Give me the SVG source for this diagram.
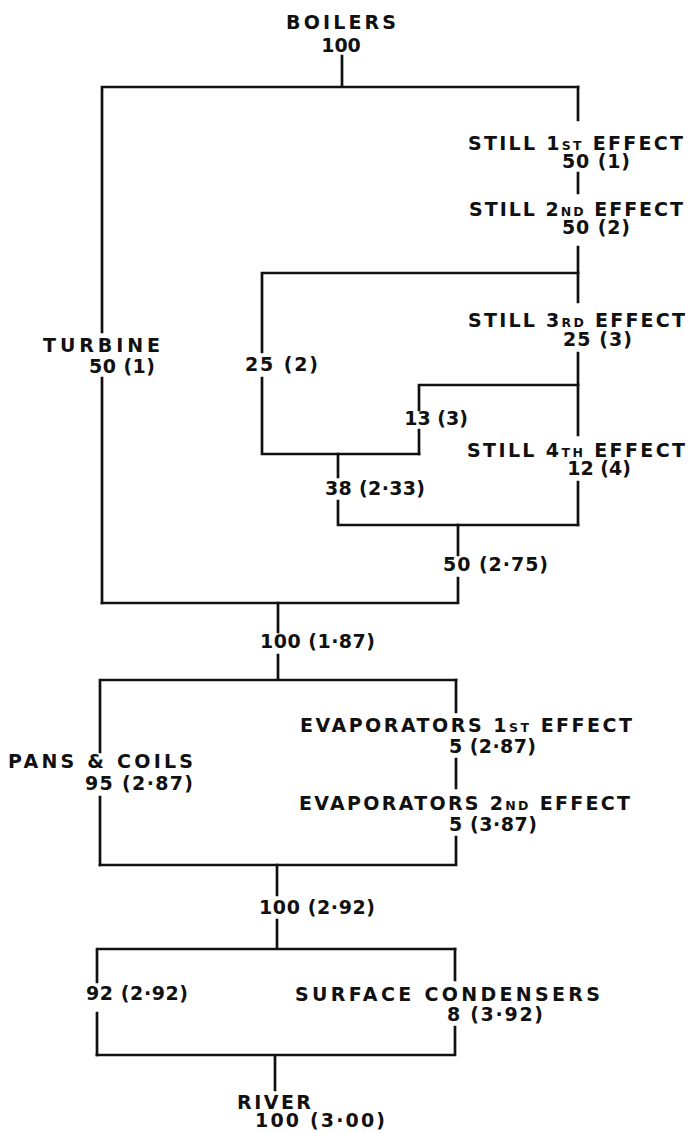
<svg xmlns="http://www.w3.org/2000/svg" width="690" height="1133" viewBox="0 0 690 1133">
<style>
text{font-family:"DejaVu Sans","Liberation Sans",sans-serif;font-weight:700;font-size:19px;fill:#111}
.sc{font-size:12.5px}
.m{text-anchor:middle}
#connectors path{fill:none;stroke:#111;stroke-width:2.7;stroke-linecap:square}
</style>
<rect width="690" height="1133" fill="#fff"/>
<g id="connectors">
<path d="M342,56V87M102,87H578M102,87V332M102,378V603"/>
<path d="M578,87V120M578,173V193M578,247V302M578,353V435M578,482V525"/>
<path d="M262,273H578M262,273V352M262,378V454M262,454H419"/>
<path d="M419,385H578M419,385V410M419,430V454"/>
<path d="M338,454V477M338,501V525M338,525H578"/>
<path d="M458,525V555M458,578V603M102,603H458"/>
<path d="M278,603V632M278,655V680M100,680H456M100,680V752M100,797V865"/>
<path d="M456,680V712M456,759V788M456,837V865M100,865H456"/>
<path d="M277,865V895M277,920V949M97,949H455M97,949V982M97,1013V1055"/>
<path d="M455,949V980M455,1027V1055M97,1055H455M275,1055V1090"/>
</g>
<g id="boilers"><text x="286" y="29" textLength="110" lengthAdjust="spacing">BOILERS</text><text class="m" x="341" y="52">100</text></g>
<g id="still1"><text x="468" y="150" textLength="215" lengthAdjust="spacing">STILL  1<tspan class="sc">ST</tspan> EFFECT</text><text x="562" y="168" textLength="68" lengthAdjust="spacing">50 (1)</text></g>
<g id="still2"><text x="469" y="216" textLength="214" lengthAdjust="spacing">STILL  2<tspan class="sc">ND</tspan> EFFECT</text><text x="562" y="234" textLength="68" lengthAdjust="spacing">50 (2)</text></g>
<g id="still3"><text x="468" y="327" textLength="217" lengthAdjust="spacing">STILL  3<tspan class="sc">RD</tspan> EFFECT</text><text x="563" y="346" textLength="69" lengthAdjust="spacing">25 (3)</text></g>
<g id="still4"><text x="467" y="457" textLength="218" lengthAdjust="spacing">STILL  4<tspan class="sc">TH</tspan> EFFECT</text><text class="m" x="599" y="475">12 (4)</text></g>
<g id="turbine"><text x="43" y="352" textLength="117" lengthAdjust="spacing">TURBINE</text><text x="89" y="373" textLength="66" lengthAdjust="spacing">50 (1)</text></g>
<g id="flow-25-2"><text x="245" y="371" textLength="73" lengthAdjust="spacing">25 (2)</text></g>
<g id="flow-13-3"><text class="m" x="436" y="425">13 (3)</text></g>
<g id="flow-38"><text x="325" y="495" textLength="100" lengthAdjust="spacing">38 (2·33)</text></g>
<g id="flow-50"><text x="443" y="571" textLength="105" lengthAdjust="spacing">50 (2·75)</text></g>
<g id="flow-100a"><text x="260" y="648" textLength="115" lengthAdjust="spacing">100 (1·87)</text></g>
<g id="pans"><text x="8" y="768" textLength="185" lengthAdjust="spacing">PANS &amp; COILS</text><text x="85" y="790" textLength="108" lengthAdjust="spacing">95 (2·87)</text></g>
<g id="evap1"><text x="300" y="732" textLength="332" lengthAdjust="spacing">EVAPORATORS 1<tspan class="sc">ST</tspan>  EFFECT</text><text x="449" y="753" textLength="87" lengthAdjust="spacing">5 (2·87)</text></g>
<g id="evap2"><text x="299" y="810" textLength="331" lengthAdjust="spacing">EVAPORATORS 2<tspan class="sc">ND</tspan> EFFECT</text><text x="449" y="831" textLength="88" lengthAdjust="spacing">5 (3·87)</text></g>
<g id="flow-100b"><text x="259" y="914" textLength="116" lengthAdjust="spacing">100 (2·92)</text></g>
<g id="flow-92"><text x="86" y="1000" textLength="102" lengthAdjust="spacing">92 (2·92)</text></g>
<g id="condensers"><text x="295" y="1001" textLength="305" lengthAdjust="spacing">SURFACE  CONDENSERS</text><text x="447" y="1021" textLength="96" lengthAdjust="spacing">8  (3·92)</text></g>
<g id="river"><text x="237" y="1109" textLength="74" lengthAdjust="spacing">RIVER</text><text x="255" y="1127" textLength="130" lengthAdjust="spacing">100  (3·00)</text></g>
</svg>
